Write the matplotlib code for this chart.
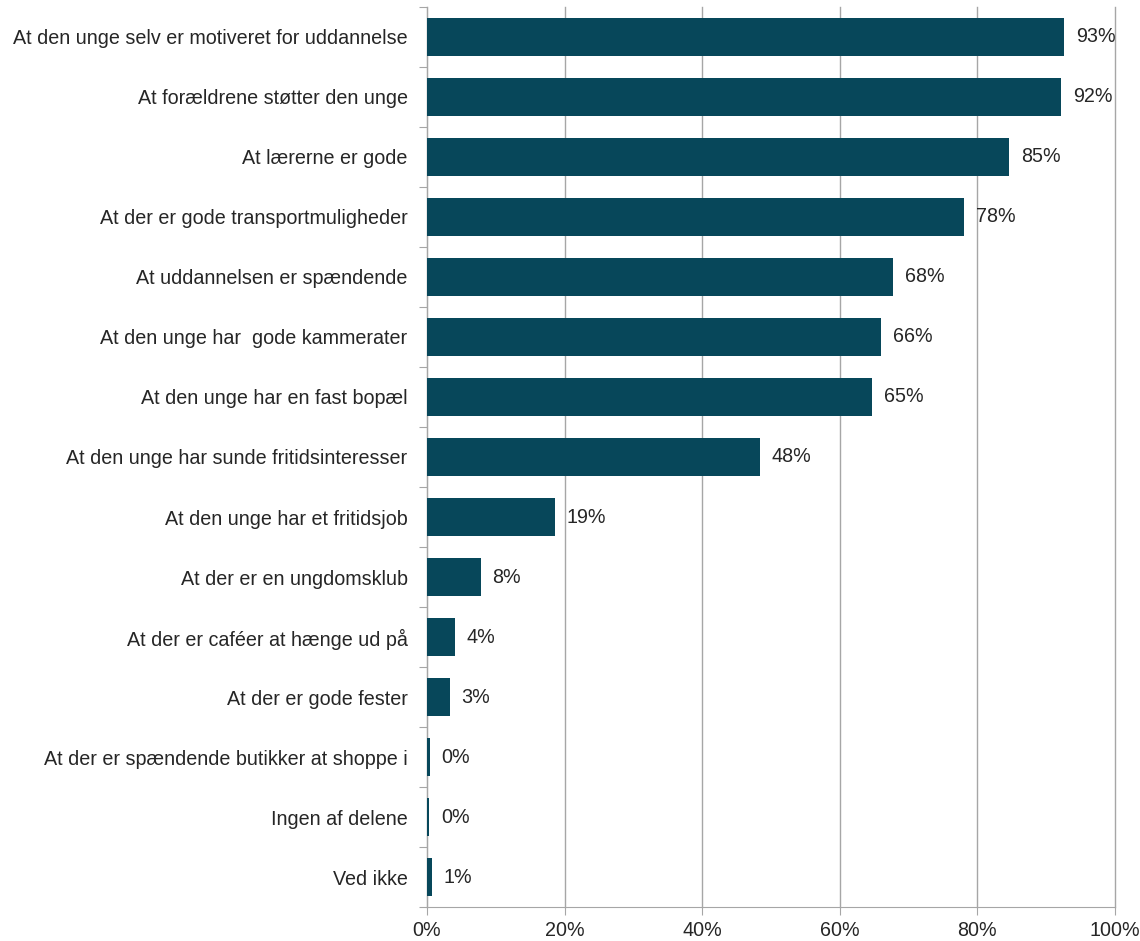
import numpy as np
from matplotlib import pyplot as plt
from matplotlib.ticker import FixedLocator

plt.rcParams['font.family'] = ['Liberation Sans', 'DejaVu Sans']

labels = ['At den unge selv er motiveret for uddannelse',
          'At forældrene støtter den unge',
          'At lærerne er gode',
          'At der er gode transportmuligheder',
          'At uddannelsen er spændende',
          'At den unge har  gode kammerater',
          'At den unge har en fast bopæl',
          'At den unge har sunde fritidsinteresser',
          'At den unge har et fritidsjob',
          'At der er en ungdomsklub',
          'At der er caféer at hænge ud på',
          'At der er gode fester',
          'At der er spændende butikker at shoppe i',
          'Ingen af delene',
          'Ved ikke']
values = [92.6, 92.2, 84.6, 78.1, 67.7, 66.0, 64.7, 48.4, 18.6, 7.8, 4.0, 3.3, 0.4, 0.3, 0.7]
shown = ['93%', '92%', '85%', '78%', '68%', '66%', '65%', '48%', '19%', '8%', '4%', '3%', '0%', '0%', '1%']

fs = 14.2
fig = plt.figure(figsize=(11.4, 9.41), dpi=100)
ax = fig.add_axes([0.3746, 0.0361, 0.6035, 0.9565])

y = np.arange(len(labels))
ax.barh(y, values, height=0.63, color='#07475A', zorder=3)
for yi, v, s in zip(y, values, shown):
    ax.text(v + 1.7, yi, s, va='center', ha='left', fontsize=fs, color='#262626')

ax.set_xlim(0, 100)
ax.set_ylim(len(labels) - 0.5, -0.5)
ax.set_xticks(np.arange(0, 101, 20))
ax.set_xticklabels([f'{t}%' for t in range(0, 101, 20)], fontsize=fs, color='#262626')
ax.xaxis.grid(True, color='#a6a6a6', linewidth=1, zorder=0)
for gl in ax.get_xgridlines():
    gl.set_clip_on(False)

# category boundary ticks on the y axis, labels in between
ax.yaxis.set_major_locator(FixedLocator(np.arange(-0.5, len(labels), 1)))
ax.set_yticklabels([])
ax.yaxis.set_minor_locator(FixedLocator(y))
ax.set_yticklabels(labels, minor=True, fontsize=fs, color='#262626')
ax.tick_params(axis='y', which='minor', length=0, pad=14)
ax.tick_params(axis='y', which='major', length=6, color='#a6a6a6')
ax.tick_params(axis='x', length=6, color='#a6a6a6', pad=4)

for side in ['top', 'right']:
    ax.spines[side].set_visible(False)
for side in ['left', 'bottom']:
    ax.spines[side].set_color('#a6a6a6')

plt.savefig('out.png', dpi=100)
